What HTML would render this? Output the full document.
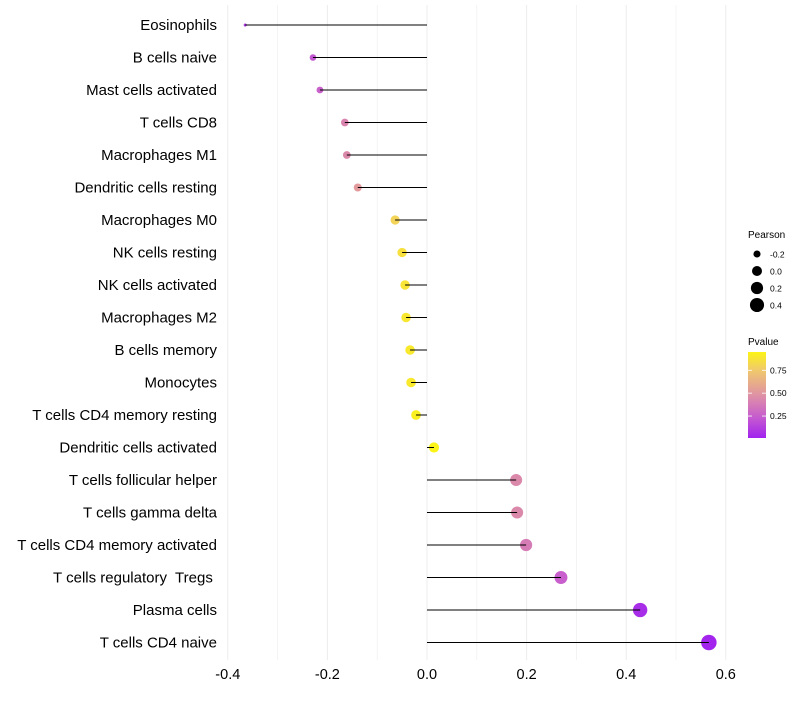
<!DOCTYPE html>
<html><head><meta charset="utf-8"><style>
body{margin:0;background:#fff;}
svg text{font-family:"Liberation Sans",sans-serif;white-space:pre;}
</style></head><body>
<svg id="chart" width="800" height="700" xmlns="http://www.w3.org/2000/svg"></svg>
<script>
const categories=["Eosinophils","B cells naive","Mast cells activated","T cells CD8","Macrophages M1","Dendritic cells resting","Macrophages M0","NK cells resting","NK cells activated","Macrophages M2","B cells memory","Monocytes","T cells CD4 memory resting","Dendritic cells activated","T cells follicular helper","T cells gamma delta","T cells CD4 memory activated","T cells regulatory  Tregs ","Plasma cells","T cells CD4 naive"];
const pearson=[-0.365,-0.229,-0.215,-0.165,-0.161,-0.139,-0.064,-0.05,-0.044,-0.042,-0.034,-0.032,-0.022,0.014,0.179,0.181,0.199,0.269,0.428,0.566];
const pvalues=[0.1,0.22,0.26,0.42,0.44,0.52,0.8,0.86,0.88,0.89,0.9,0.9,0.93,0.95,0.44,0.44,0.38,0.25,0.05,0.02];
const xTicks=[-0.4,-0.2,0,0.2,0.4,0.6];
const xTickLabels=["-0.4","-0.2","0.0","0.2","0.4","0.6"];
const sizeLegend=[-0.2,0.0,0.2,0.4];
const sizeLegendLabels=["-0.2","0.0","0.2","0.4"];
const colorTicks=[0.25,0.5,0.75];
const colorTickLabels=["0.25","0.50","0.75"];

const svg=document.getElementById('chart');
const NS="http://www.w3.org/2000/svg";
function el(t,a,p){const e=document.createElementNS(NS,t);for(const k in a)e.setAttribute(k,a[k]);(p||svg).appendChild(e);return e;}
const x=v=>427+v*498;
const y=i=>25+i*32.5;
const r=v=>Math.sqrt(Math.max(1.5,25+62*v));
const stops=[[0,[160,32,240]],[0.25,[200,95,205]],[0.5,[225,150,160]],[0.75,[240,200,110]],[1,[255,255,0]]];
function col(p){for(let i=0;i<stops.length-1;i++){const[a,ca]=stops[i],[b,cb]=stops[i+1];if(p<=b){const t=(p-a)/(b-a);return 'rgb('+ca.map((c,k)=>Math.round(c+(cb[k]-c)*t)).join(',')+')';}}return 'rgb(255,255,0)';}

for(let v=-0.4;v<=0.61;v+=0.1){const g=el('line',{x1:x(v),x2:x(v),y1:5,y2:660,stroke:'#ececec','stroke-width':Math.abs(Math.round(v*10))%2==0?1:0.6});

}
xTicks.forEach((v,i)=>{const t=el('text',{x:x(v),y:679,'font-size':14.5,'text-anchor':'middle',fill:'#000'});t.textContent=xTickLabels[i];

});
categories.forEach((c,i)=>{
const t=el('text',{x:217,y:y(i)+5,'font-size':15,'text-anchor':'end',fill:'#000'});t.textContent=c;


const pt=el('circle',{cx:x(pearson[i]),cy:y(i),r:r(pearson[i]),fill:col(pvalues[i])});


const s=el('line',{x1:x(0),x2:x(pearson[i]),y1:y(i),y2:y(i),stroke:'#000','stroke-width':1});


});
let t=el('text',{x:748,y:238,'font-size':10});t.textContent='Pearson';


sizeLegend.forEach((v,i)=>{const cy=254+i*17;const c=el('circle',{cx:757,cy:cy,r:r(v),fill:'#000'});


const l=el('text',{x:770,y:cy+3.5,'font-size':8.5});l.textContent=sizeLegendLabels[i];

});
t=el('text',{x:748,y:345,'font-size':10});t.textContent='Pvalue';


const defs=el('defs',{});const lg=el('linearGradient',{id:'pg',x1:0,y1:1,x2:0,y2:0},defs);
const pmin=0.01,pmax=0.95;
for(let k=0;k<=10;k++){const p=pmin+(pmax-pmin)*k/10;el('stop',{offset:k/10,'stop-color':col(p)},lg);}
const cb=el('rect',{x:748,y:352,width:18,height:86,fill:'url(#pg)'});


const cy=p=>438-(p-pmin)/(pmax-pmin)*86;
colorTicks.forEach((v,i)=>{el('line',{x1:748,x2:752,y1:cy(v),y2:cy(v),stroke:'#fff','stroke-width':0.8});el('line',{x1:762,x2:766,y1:cy(v),y2:cy(v),stroke:'#fff','stroke-width':0.8});
const l=el('text',{x:770,y:cy(v)+3,'font-size':8.5});l.textContent=colorTickLabels[i];

});
</script>
</body></html>
